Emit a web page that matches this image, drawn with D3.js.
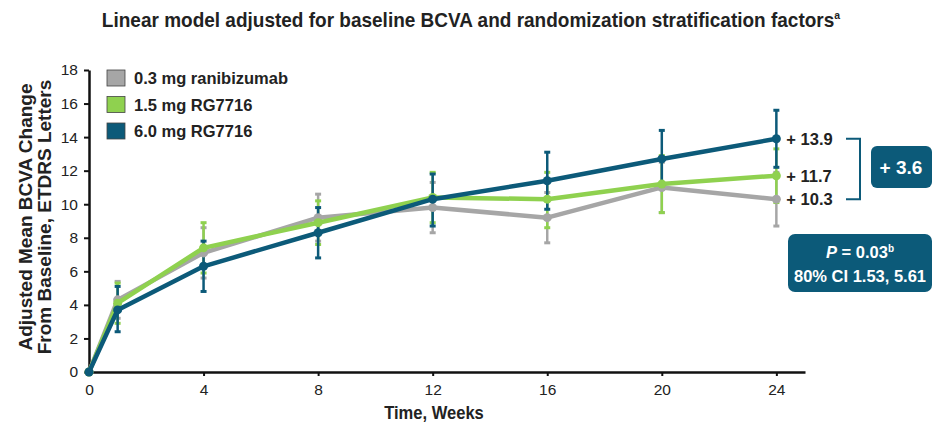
<!DOCTYPE html>
<html>
<head>
<meta charset="utf-8">
<script src="https://cdn.jsdelivr.net/npm/d3@7"></script>
<style>
  body { margin: 0; background: #fff; }
  svg { font-family: "Liberation Sans", Arial, sans-serif; }
</style>
</head>
<body>
<svg width="932" height="425"></svg>
<script>
var weeks = [0, 1, 4, 8, 12, 16, 20, 24];
var yTicks = [0, 2, 4, 6, 8, 10, 12, 14, 16, 18];
var xTicks = [0, 4, 8, 12, 16, 20, 24];

var seriesNames = ["0.3 mg ranibizumab", "1.5 mg RG7716", "6.0 mg RG7716"];
var seriesColors = ["#a6a6a6", "#8fd14f", "#0c5a79"];

// adjusted mean change per week
var ranibizumab = [0, 4.3, 7.1, 9.2, 9.8, 9.2, 11.0, 10.3];
var rg15 = [0, 4.1, 7.4, 8.9, 10.4, 10.3, 11.2, 11.7];
var rg60 = [0, 3.7, 6.3, 8.3, 10.3, 11.4, 12.7, 13.9];

// error bar low / high
var ranibizumabLo = [0, 3.2, 5.6, 7.8, 8.3, 7.7, 9.5, 8.7];
var ranibizumabHi = [0, 5.4, 8.6, 10.6, 11.3, 10.7, 12.5, 11.9];
var rg15Lo = [0, 2.9, 5.9, 7.6, 8.9, 8.6, 9.5, 10.1];
var rg15Hi = [0, 5.3, 8.9, 10.2, 11.9, 11.9, 12.9, 13.3];
var rg60Lo = [0, 2.4, 4.8, 6.8, 8.7, 9.7, 11.0, 12.2];
var rg60Hi = [0, 5.1, 7.8, 9.8, 11.8, 13.1, 14.4, 15.6];

var endLabels = ["+ 10.3", "+ 11.7", "+ 13.9"];

var svg = d3.select("svg");
var dark = "#222";

var x = d3.scaleLinear().domain([0, 25]).range([89, 805]);
var y = d3.scaleLinear().domain([0, 18]).range([372, 70]);

var series = [
  {name: seriesNames[0], color: seriesColors[0], vals: ranibizumab, lo: ranibizumabLo, hi: ranibizumabHi},
  {name: seriesNames[1], color: seriesColors[1], vals: rg15, lo: rg15Lo, hi: rg15Hi},
  {name: seriesNames[2], color: seriesColors[2], vals: rg60, lo: rg60Lo, hi: rg60Hi}
];

// title, squeezed horizontally since the original is a narrow face
var title = svg.append("text")
    .attr("transform", "translate(471,27) scale(0.95,1)")
    .attr("text-anchor", "middle")
    .attr("font-weight", "bold").attr("font-size", 20).attr("fill", dark)
    .text("Linear model adjusted for baseline BCVA and randomization stratification factors");
title.append("tspan").attr("font-size", 11).attr("dy", -8).text("a");

// axes
var yAxis = svg.append("g")
    .attr("transform", "translate(" + x(0) + ",0)")
    .call(d3.axisLeft(y).tickValues(yTicks).tickSize(5).tickPadding(6).tickSizeOuter(0));
var xAxis = svg.append("g")
    .attr("transform", "translate(0," + y(0) + ")")
    .call(d3.axisBottom(x).tickValues(xTicks).tickSize(4).tickPadding(8).tickSizeOuter(0));

[yAxis, xAxis].forEach(function(a) {
  a.select(".domain").attr("stroke", "#111").attr("stroke-width", 2.5);
  a.selectAll(".tick line").attr("stroke", "#111").attr("stroke-width", 2);
  a.selectAll(".tick text").attr("font-size", 15.5).attr("fill", dark).attr("font-family", "'Liberation Sans', Arial, sans-serif");
});

// axis titles
svg.append("text")
    .attr("transform", "translate(434,419) scale(0.92,1)")
    .attr("text-anchor", "middle")
    .attr("font-weight", "bold").attr("font-size", 18).attr("fill", dark)
    .text("Time, Weeks");

var yl = svg.append("text")
    .attr("transform", "translate(32,217) rotate(-90)")
    .attr("text-anchor", "middle")
    .attr("font-weight", "bold").attr("font-size", 19).attr("fill", dark);
yl.append("tspan").attr("x", 0).attr("dy", 0).text("Adjusted Mean BCVA Change");
yl.append("tspan").attr("x", 0).attr("dy", 19).text("From Baseline, ETDRS Letters");

var line = d3.line()
    .x(function(d) { return x(d[0]); })
    .y(function(d) { return y(d[1]); });

// error bars first, then lines
series.forEach(function(s) {
  var g = svg.append("g");
  weeks.forEach(function(w, i) {
    if (w === 0) return;
    g.append("line")
        .attr("x1", x(w)).attr("x2", x(w))
        .attr("y1", y(s.lo[i])).attr("y2", y(s.hi[i]))
        .attr("stroke", s.color).attr("stroke-width", 2.5);
    [s.lo[i], s.hi[i]].forEach(function(v) {
      g.append("line")
          .attr("x1", x(w) - 3).attr("x2", x(w) + 3)
          .attr("y1", y(v)).attr("y2", y(v))
          .attr("stroke", s.color).attr("stroke-width", 3);
    });
  });
});

series.forEach(function(s) {
  var pts = weeks.map(function(w, i) { return [w, s.vals[i]]; });
  svg.append("path")
      .datum(pts)
      .attr("d", line)
      .attr("fill", "none")
      .attr("stroke", s.color)
      .attr("stroke-width", 4.5)
      .attr("stroke-linejoin", "round");
  svg.selectAll(null)
    .data(pts)
    .enter().append("circle")
      .attr("cx", function(d) { return x(d[0]); })
      .attr("cy", function(d) { return y(d[1]); })
      .attr("r", 4.5)
      .attr("fill", s.color);
});

// legend
series.forEach(function(s, i) {
  var ly = 70 + i * 26.5;
  svg.append("rect")
      .attr("x", 107).attr("y", ly)
      .attr("width", 18).attr("height", 16)
      .attr("fill", s.color).attr("stroke", "#444").attr("stroke-width", 0.8);
  svg.append("text")
      .attr("x", 134).attr("y", ly + 14)
      .attr("font-weight", "bold").attr("font-size", 16.5).attr("fill", dark)
      .text(s.name);
});

// end value labels
series.forEach(function(s, i) {
  svg.append("text")
      .attr("x", x(24) + 10).attr("y", y(s.vals[7]) + 6)
      .attr("font-weight", "bold").attr("font-size", 16.5).attr("fill", dark)
      .text(endLabels[i]);
});

// bracket
var bTop = y(rg60[7]), bBot = y(ranibizumab[7]);
svg.append("path")
    .attr("d", "M846," + bTop + "H860V" + bBot + "H846")
    .attr("fill", "none").attr("stroke", seriesColors[2]).attr("stroke-width", 2);

svg.append("rect")
    .attr("x", 871).attr("y", 146).attr("width", 61).attr("height", 42)
    .attr("rx", 6).attr("fill", seriesColors[2]);
svg.append("text")
    .attr("x", 901).attr("y", 174)
    .attr("text-anchor", "middle")
    .attr("font-weight", "bold").attr("font-size", 19).attr("fill", "#fff")
    .text("+ 3.6");

svg.append("rect")
    .attr("x", 788).attr("y", 234).attr("width", 144).attr("height", 58)
    .attr("rx", 7).attr("fill", seriesColors[2]);
var pt = svg.append("text")
    .attr("x", 860).attr("y", 258)
    .attr("text-anchor", "middle")
    .attr("font-weight", "bold").attr("font-size", 16.5).attr("fill", "#fff");
pt.append("tspan").attr("font-style", "italic").text("P");
pt.append("tspan").text(" = 0.03");
pt.append("tspan").attr("font-size", 10).attr("dy", -6).text("b");
svg.append("text")
    .attr("x", 860).attr("y", 282)
    .attr("text-anchor", "middle")
    .attr("font-weight", "bold").attr("font-size", 16.5).attr("fill", "#fff")
    .text("80% CI 1.53, 5.61");
</script>
</body>
</html>
